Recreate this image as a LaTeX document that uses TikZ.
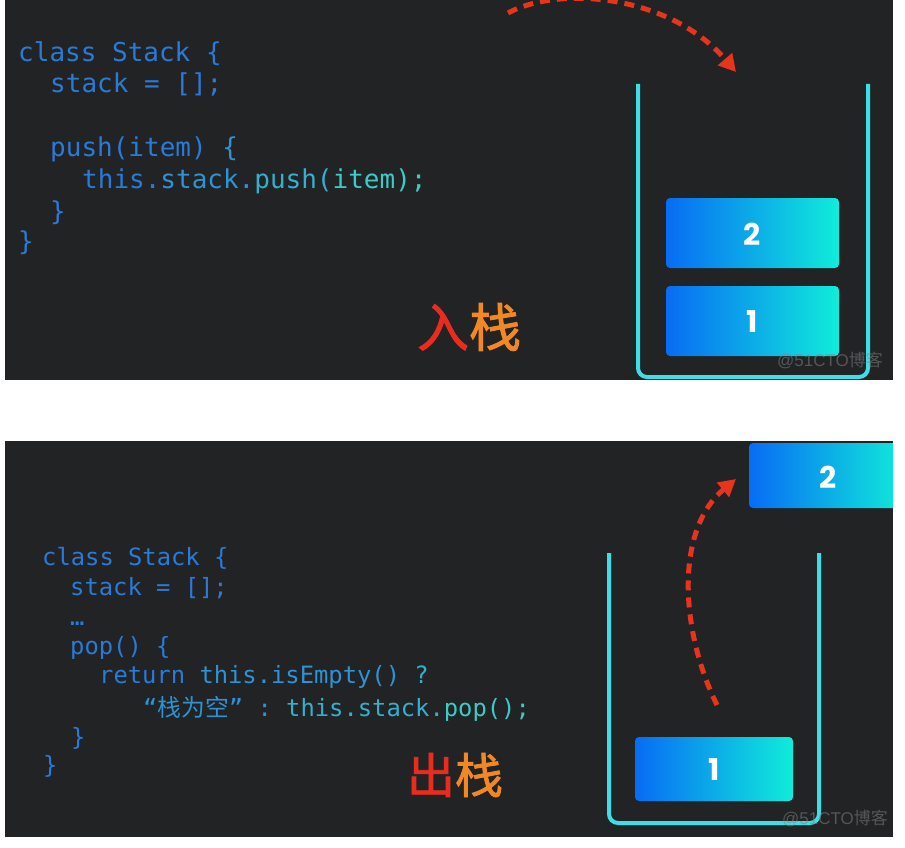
\documentclass[tikz,border=0pt]{standalone}
\usepackage{fontspec}
\setmonofont{DejaVu Sans Mono}
\newfontfamily\cjk{Noto Sans CJK SC}
\newfontfamily\cjkmed{Noto Sans CJK SC}[FakeBold=1.6]
\newfontfamily\popfont{Poppins}
\newfontfamily\wmfont{Liberation Sans}
\usetikzlibrary{arrows.meta}
\definecolor{panelbg}{RGB}{34,35,36}
\definecolor{cA}{RGB}{42,122,216}
\definecolor{cB}{RGB}{46,146,212}
\definecolor{cC}{RGB}{52,176,206}
\definecolor{cD}{RGB}{60,204,200}
\definecolor{stackcol}{RGB}{62,222,230}
\definecolor{boxL}{RGB}{8,108,244}
\definecolor{boxR}{RGB}{16,236,218}
\definecolor{arrowred}{RGB}{232,52,28}
\definecolor{hanred}{RGB}{234,44,30}
\definecolor{hanorange}{RGB}{242,136,36}
\tikzset{
  codeT/.style={anchor=base west, inner sep=0pt, font=\ttfamily\fontsize{26}{26}\selectfont},
  codeB/.style={anchor=base west, inner sep=0pt, font=\ttfamily\fontsize{23.8}{24}\selectfont},
  stackline/.style={draw=stackcol, line width=4pt, rounded corners=9pt},
  itembox/.style={rounded corners=4pt, left color=boxL, right color=boxR},
  itemnum/.style={text=white, inner sep=0pt, font=\popfont\bfseries\fontsize{30}{30}\selectfont},
  movearrow/.style={draw=arrowred, line width=5pt, dash pattern=on 10pt off 7pt, -{Triangle[length=17pt,width=18pt]}},
  hanlabel/.style={inner sep=0pt, font=\cjkmed\fontsize{52}{52}\selectfont},
  watermark/.style={inner sep=0pt, text=gray, text opacity=0.55, font=\fontsize{17}{17}\selectfont}
}
\begin{document}
\begin{tikzpicture}[x=1pt,y=-1pt]
\useasboundingbox (0,0) rectangle (905,848);
\fill[white] (0,0) rectangle (905,848);
\fill[panelbg] (5,0) rectangle (893,380);
\fill[panelbg] (5,441) rectangle (893,837);

% ---------- top panel ----------
\node[codeT] (t1) at (18,62) {\textcolor{cA}{class Stack \{}};
\node[codeT] (t2) at (50,93) {\textcolor{cA}{stack = [];}};
\node[codeT] (t3) at (50,157) {\textcolor{cA}{push(item) }\textcolor{cB}{\{}};
\node[codeT] (t4) at (82,188) {\textcolor{cA}{this.}\textcolor{cB}{stack.}\textcolor{cC}{push(}\textcolor{cD}{item);}};
\node[codeT] (t5) at (50,220) {\textcolor{cA}{\}}};
\node[codeT] (t6) at (18,250) {\textcolor{cA}{\}}};

\draw[stackline] (638,84) -- (638,377) -- (868,377) -- (868,84);
\shade[itembox] (666,198) rectangle (839,268);
\shade[itembox] (666,286) rectangle (839,356);
\node[itemnum] (n2) at (752,234) {2};
\node[itemnum] (n1) at (752,322) {1};

\begin{scope}
\clip (5,0) rectangle (893,380);
\coordinate (ps) at (508,13);
\coordinate (pe) at (736,72);
\draw[movearrow] (ps) .. controls (560,-15) and (670,-5) .. (pe);
\end{scope}

\node[hanlabel] (push) at (469,327) {\textcolor{hanred}{入}\textcolor{hanorange}{栈}};
\node[watermark] (wm1) at (830,360) {\wmfont @51CTO{\cjk 博客}};

% ---------- bottom panel ----------
\node[codeB] (b1) at (42,565) {\textcolor{cA}{class Stack \{}};
\node[codeB] (b2) at (70,595) {\textcolor{cA}{stack = [];}};
\node[codeB] (b3) at (70,625) {\textcolor{cA}{…}};
\node[codeB] (b4) at (70,654) {\textcolor{cA}{pop() \{}};
\node[codeB] (b5) at (99,683) {\textcolor{cA}{return }\textcolor{cB}{this.isEmpty() }\textcolor{cC}{?}};
\node[codeB] (b6) at (143,716) {\textcolor{cB}{“{\cjk 栈为空}” : }\textcolor{cC}{this.stack.}\textcolor{cD}{pop();}};
\node[codeB] (b7) at (71,745) {\textcolor{cA}{\}}};
\node[codeB] (b8) at (43,773) {\textcolor{cA}{\}}};

\draw[stackline] (609,553) -- (609,823) -- (819,823) -- (819,553);
\shade[itembox] (635,737) rectangle (793,801);
\node[itemnum] (m1) at (714,770) {1};
\begin{scope}
\clip (5,441) rectangle (893,837);
\shade[itembox] (749,443) rectangle (905,508);
\end{scope}
\node[itemnum] (m2) at (828,477) {2};

\coordinate (qs) at (717,705);
\coordinate (qe) at (736,479);
\draw[movearrow] (qs) .. controls (680,630) and (675,530) .. (qe);

\node[hanlabel, font=\cjkmed\fontsize{48}{48}\selectfont] (pop) at (455,775) {\textcolor{hanred}{出}\textcolor{hanorange}{栈}};
\node[watermark] (wm2) at (835,818) {\wmfont @51CTO{\cjk 博客}};
\end{tikzpicture}
\end{document}
